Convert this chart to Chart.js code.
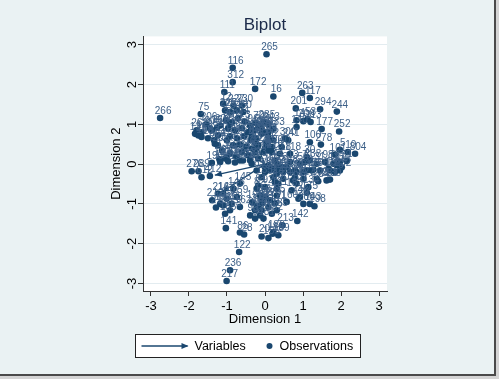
<!DOCTYPE html>
<html>
<head>
<meta charset="utf-8">
<script src="https://cdn.jsdelivr.net/npm/chart.js@4/dist/chart.umd.min.js"></script>
<style>
html,body{margin:0;padding:0;background:#d4d4d4;}
#wrap{position:absolute;left:0;top:0;width:494px;height:374px;border-right:2px solid #4a4a4a;border-bottom:2px solid #4a4a4a;}
#c{display:block;background:#eaf2f3;}
</style>
</head>
<body>
<div id="wrap"><canvas id="c" width="494" height="374"></canvas></div>
<script>
const tickVals = [-3, -2, -1, 0, 1, 2, 3];

// Variable arrows (tips; each arrow starts at the origin)
const varTipX = [-1.32, -1.13, -0.85, -0.45];
const varTipY = [-0.28, -0.70, 0.55, 0.95];

// Observations
const obsLabels = [
 '265','116','312','111','172','16','263','117','201','294',
 '244','53','113','208','177','252','266','75','70','241',
 '100','118','278','5','101','804','10','1','30','232',
 '281','284','134','175','46','183','143','198','142','213',
 '188','155','20','141','86','28','122','236','217','262',
 '131','173','25','168','275','169','197','196','190','276',
 '289','612','412','271','81','140','249','285','243','218',
 '300','40','93','94','225','254','214','60','230','227',
 '12','209','286','88','2','37','219','64','44','97',
 '39','104','304','3','96','158','180','54','95','68',
 '184','35','67','43','105','6','91','62','48','157',
 '128','211','23','84','17','149','136','11','161','187',
 '119','72','58','33','66','77','124','9','57','126',
 '41','151','89','133','14','199','42','65','79','123',
 '21','148','13','38','50','71','238','31','98','115',
 '279','15','56','102','109','127','152','24','63','92',
 '82','200','160','85','108','125','27','4','19','34',
 '49','51','61','76','87','90','99','103','106','107',
 '110','114','121','129','130','135','138','139','144','145',
 '146','147','150','153','154','156','159','162','163','165',
 '166','167','170','171','174','176','178','179','181','182',
 '185','186','189','191','192','193','194','195','202','203',
 '204','205','206','207','210','212','215','216'
];
const obsX = [
 0.04,-0.85,-0.85,-1.07,-0.26,0.22,0.98,1.18,0.81,1.45,
 1.89,1.12,1.20,1.01,1.49,1.95,-2.76,-1.69,-0.24,0.61,
 1.18,0.66,1.47,1.97,1.84,2.37,2.18,2.15,1.10,1.97,
 1.62,1.40,1.14,1.10,0.92,0.70,1.18,1.30,0.85,0.46,
 0.20,0.09,-0.09,-1.03,-0.66,-0.55,-0.68,-0.92,-1.01,-1.80,
 -1.84,-1.67,-1.75,-1.67,-1.32,-1.26,-1.20,-1.40,-1.18,-1.93,
 -1.75,-1.67,-1.45,-1.01,-0.18,0.83,-0.13,-0.03,0.09,0.39,
 0.53,0.44,-0.39,-0.26,-1.05,-0.92,-0.74,-0.57,-0.61,-0.83,
 -1.10,-0.09,0.00,0.09,0.22,0.04,0.18,-0.04,0.26,0.09,
 -1.03,-0.87,-0.71,-0.53,-0.39,-0.97,-0.79,-0.61,-0.45,-0.29,
 -0.92,-0.74,-0.55,-0.37,-0.24,-0.66,-0.50,-0.34,-0.84,-1.00,
 -0.18,-0.26,-0.45,-0.61,-0.76,-0.92,-1.13,-1.24,-1.39,-1.50,
 -1.05,-0.66,-0.39,-0.18,-0.35,-0.26,-0.22,0.00,0.09,0.18,
 0.04,-0.09,0.09,0.22,0.83,-0.18,-0.35,-0.22,0.00,0.31,
 0.44,0.57,0.66,0.79,0.92,1.05,1.18,1.36,1.58,1.80,
 1.97,1.23,1.45,1.71,1.36,1.01,0.74,0.48,0.26,0.00,
 -0.22,1.01,0.57,0.31,-0.09,-0.22,1.89,2.02,1.67,1.27,
 1.10,0.83,1.01,1.84,0.18,0.35,0.48,0.66,0.79,0.83,
 0.35,0.22,0.31,0.88,1.71,-0.09,0.00,0.13,0.31,-0.66,
 -0.83,-1.10,-1.01,-0.88,-1.10,-1.18,-0.74,-0.66,-0.92,-1.05,
 -0.13,0.00,0.13,0.26,0.09,-0.09,-0.26,-0.13,-0.04,0.18,
 0.31,0.22,0.35,-0.34,-0.18,-0.08,-0.97,-0.79,-0.58,-1.24,
 -1.34,-1.45,-1.55,-1.18,-0.92,-1.39,-1.29,-1.24
];
const obsY = [
 2.76,2.42,2.06,1.81,1.89,1.70,1.79,1.66,1.40,1.38,
 1.32,1.13,1.06,1.08,0.88,0.82,1.16,1.26,1.03,0.60,
 0.55,0.26,0.49,0.36,0.24,0.26,0.30,0.08,0.18,-0.16,
 -0.41,-0.43,-0.58,-0.72,-0.83,-0.66,-1.00,-1.06,-1.43,-1.54,
 -1.75,-1.86,-1.82,-1.61,-1.72,-1.77,-2.21,-2.67,-2.94,0.85,
 0.76,0.80,0.72,0.68,0.51,0.92,0.12,0.03,0.05,-0.18,
 -0.18,-0.33,-0.30,0.18,-0.54,0.93,0.97,1.05,1.00,0.26,
 0.64,0.43,-1.29,-1.37,1.35,1.31,1.35,1.31,1.47,1.47,
 1.52,0.89,0.80,0.68,0.60,0.43,0.30,0.30,0.09,-0.03,
 1.10,1.05,1.15,1.07,0.97,0.90,0.85,0.90,0.80,0.85,
 0.70,0.65,0.70,0.60,0.65,0.49,0.44,0.39,0.47,0.60,
 0.47,0.29,0.22,0.29,0.19,0.27,0.34,0.72,0.85,0.65,
 0.14,0.09,0.09,0.14,0.68,0.55,0.43,0.39,0.34,0.43,
 0.55,0.76,0.80,0.89,1.10,0.90,0.01,-0.16,-0.08,0.01,
 -0.08,-0.08,0.05,-0.16,0.01,0.05,0.09,0.01,0.05,0.01,
 0.05,-0.16,-0.16,-0.16,-0.37,-0.37,-0.41,-0.37,-0.45,-0.58,
 -0.62,-1.00,-0.95,-0.79,-0.87,-1.04,-0.03,-0.08,-0.12,-0.14,
 -0.16,-0.20,-0.20,-0.20,-0.12,-0.12,-0.20,-0.20,-0.33,-0.49,
 -0.49,-0.33,-0.62,-0.87,-0.39,-0.33,-0.20,-0.16,-0.24,-0.49,
 -0.62,-0.74,-0.87,-1.00,-1.04,-1.00,-0.83,-1.08,-1.16,-1.25,
 -0.79,-0.83,-0.91,-0.99,-1.08,-1.16,-1.16,-1.29,-1.37,-1.25,
 -1.16,-1.71,-1.79,-0.96,-1.06,-0.99,0.07,0.04,0.09,0.47,
 0.60,0.90,1.00,0.97,1.00,-0.91,-1.09,-0.74
];

const NAVY = '#1a476f';
const FONT = '"Liberation Sans", Arial, Helvetica, sans-serif';

const arrowSets = varTipX.map((tx, i) => ({
  type: 'line',
  label: i === 0 ? 'Variables' : '',
  data: [{x: 0, y: 0}, {x: tx, y: varTipY[i]}],
  borderColor: NAVY,
  borderWidth: 1.3,
  pointRadius: 0,
  showLine: true,
  fill: false
}));

const obsSet = {
  type: 'scatter',
  label: 'Observations',
  data: obsX.map((x, i) => ({x: x, y: obsY[i]})),
  backgroundColor: NAVY,
  borderColor: NAVY,
  borderWidth: 0,
  pointRadius: 3.3,
  pointHoverRadius: 3.3
};

const plotBg = {
  id: 'plotBg',
  beforeDraw(chart) {
    const {ctx, chartArea: a} = chart;
    ctx.save();
    ctx.fillStyle = '#ffffff';
    ctx.fillRect(a.left, a.top, a.right - a.left, a.bottom - a.top);
    ctx.restore();
  }
};

const arrowHeads = {
  id: 'arrowHeads',
  afterDatasetsDraw(chart) {
    const {ctx, scales: {x, y}} = chart;
    ctx.save();
    ctx.fillStyle = NAVY;
    varTipX.forEach((tx, i) => {
      const x0 = x.getPixelForValue(0), y0 = y.getPixelForValue(0);
      const x1 = x.getPixelForValue(tx), y1 = y.getPixelForValue(varTipY[i]);
      const ang = Math.atan2(y1 - y0, x1 - x0);
      const L = 7, W = 3;
      ctx.beginPath();
      ctx.moveTo(x1, y1);
      ctx.lineTo(x1 - L * Math.cos(ang) + W * Math.sin(ang), y1 - L * Math.sin(ang) - W * Math.cos(ang));
      ctx.lineTo(x1 - L * Math.cos(ang) - W * Math.sin(ang), y1 - L * Math.sin(ang) + W * Math.cos(ang));
      ctx.closePath();
      ctx.fill();
    });
    ctx.restore();
  }
};

const pointLabels = {
  id: 'pointLabels',
  afterDatasetsDraw(chart) {
    const {ctx, scales: {x, y}} = chart;
    ctx.save();
    ctx.font = '10px ' + FONT;
    ctx.fillStyle = '#3d6088';
    ctx.textAlign = 'center';
    ctx.textBaseline = 'alphabetic';
    obsLabels.forEach((lb, i) => {
      const px = x.getPixelForValue(obsX[i]);
      const py = y.getPixelForValue(obsY[i]);
      ctx.fillText(lb, px + 3, py - 4);
    });
    ctx.restore();
  }
};

const yTickLabels = {
  id: 'yTickLabels',
  afterDraw(chart) {
    const {ctx, scales: {y}} = chart;
    ctx.save();
    ctx.font = '13px ' + FONT;
    ctx.fillStyle = '#000';
    ctx.textAlign = 'center';
    ctx.textBaseline = 'middle';
    tickVals.forEach(v => {
      const py = y.getPixelForValue(v);
      ctx.save();
      ctx.translate(y.right - 11, py);
      ctx.rotate(-Math.PI / 2);
      ctx.fillText(String(v), 0, 0);
      ctx.restore();
    });
    ctx.restore();
  }
};

const boxLegend = {
  id: 'boxLegend',
  afterDraw(chart) {
    const {ctx} = chart;
    const w = 225, h = 23;
    const left = Math.round(chart.width / 2 - w / 2) + 0.5;
    const top = chart.scales.x.bottom + 3.5;
    const cy = top + h / 2;
    ctx.save();
    ctx.fillStyle = '#ffffff';
    ctx.fillRect(left, top, w, h);
    ctx.strokeStyle = '#222';
    ctx.lineWidth = 1;
    ctx.strokeRect(left, top, w, h);
    // arrow symbol
    ctx.strokeStyle = NAVY;
    ctx.lineWidth = 1.3;
    ctx.beginPath();
    ctx.moveTo(left + 6, cy);
    ctx.lineTo(left + 52, cy);
    ctx.stroke();
    ctx.fillStyle = NAVY;
    ctx.beginPath();
    ctx.moveTo(left + 53, cy);
    ctx.lineTo(left + 46, cy - 3);
    ctx.lineTo(left + 46, cy + 3);
    ctx.closePath();
    ctx.fill();
    // dot symbol
    ctx.beginPath();
    ctx.arc(left + 134, cy, 3, 0, Math.PI * 2);
    ctx.fill();
    ctx.fillStyle = '#000';
    ctx.font = '12.5px ' + FONT;
    ctx.textAlign = 'left';
    ctx.textBaseline = 'middle';
    ctx.fillText(arrowSets[0].label, left + 59, cy + 1);
    ctx.fillText(obsSet.label, left + 144, cy + 1);
    ctx.restore();
  }
};

new Chart(document.getElementById('c'), {
  data: { datasets: [...arrowSets, obsSet] },
  options: {
    responsive: false,
    animation: false,
    devicePixelRatio: 1,
    layout: { padding: { left: 105, right: 107, top: 2, bottom: 43 } },
    plugins: {
      legend: { display: false },
      tooltip: { enabled: false },
      title: {
        display: true,
        text: 'Biplot',
        fullSize: false,
        color: '#1b2a49',
        font: { family: FONT, size: 17, weight: 'normal' },
        padding: { top: 13, bottom: 1 }
      }
    },
    scales: {
      x: {
        type: 'linear',
        position: 'bottom',
        min: -3.21, max: 3.21,
        afterBuildTicks: s => { s.ticks = tickVals.map(v => ({value: v})); },
        afterFit: s => { s.height = 40; },
        ticks: { color: '#000', font: { family: FONT, size: 13 }, padding: 3, maxRotation: 0, callback: v => String(v) },
        grid: { drawOnChartArea: false, tickLength: 5, tickColor: '#333', tickWidth: 1 },
        border: { display: true, color: '#333', width: 1 },
        title: { display: true, text: 'Dimension 1', color: '#000', font: { family: FONT, size: 13 }, padding: { top: 4, bottom: 4 } }
      },
      y: {
        type: 'linear',
        position: 'left',
        min: -3.19, max: 3.21,
        afterBuildTicks: s => { s.ticks = tickVals.map(v => ({value: v})); },
        afterFit: s => { s.width = 38; },
        ticks: { display: false },
        grid: { drawOnChartArea: true, color: '#e3ecf0', lineWidth: 1, tickLength: 5, tickColor: '#333', tickWidth: 1 },
        border: { display: true, color: '#333', width: 1 },
        title: { display: true, text: 'Dimension 2', color: '#000', font: { family: FONT, size: 13 }, padding: { top: 4, bottom: 4 } }
      }
    }
  },
  plugins: [plotBg, arrowHeads, pointLabels, yTickLabels, boxLegend]
});
</script>
</body>
</html>
